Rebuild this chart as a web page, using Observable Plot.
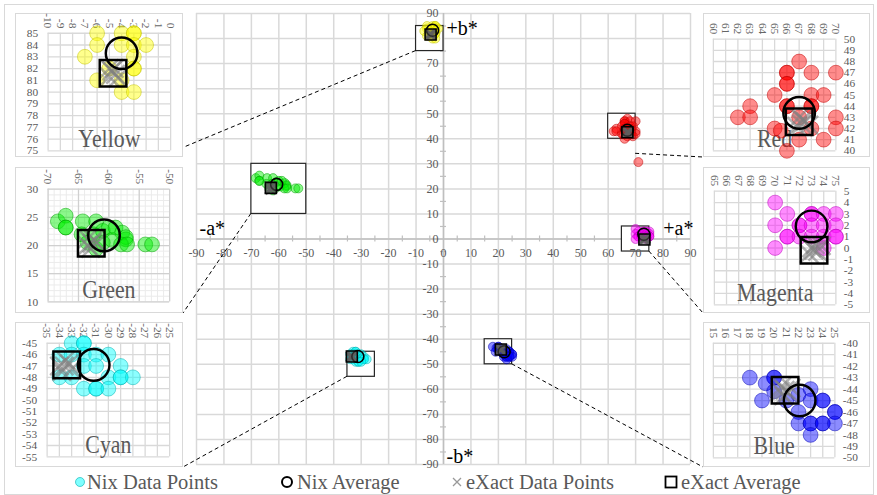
<!DOCTYPE html>
<html><head><meta charset="utf-8">
<script src="https://cdn.jsdelivr.net/npm/d3@7"></script>
<script src="https://cdn.jsdelivr.net/npm/@observablehq/plot@0.6"></script>
<style>
body{margin:0;background:#fff;}
#chart{position:relative;width:877px;height:495px;overflow:hidden;font-family:"Liberation Serif","Times New Roman",serif;background:#fff;}
.frame{position:absolute;left:4px;top:4px;width:870px;height:491px;border:1px solid #d9d9d9;box-sizing:border-box;}
.panel{position:absolute;background:#fff;border:1px solid #d9d9d9;box-sizing:border-box;overflow:visible;}
.panel svg{position:absolute;left:-1px;top:-1px;overflow:visible;}
.lg{position:absolute;white-space:nowrap;font-size:20.5px;line-height:24px;color:#595959;top:470px;}
</style></head><body><div id="chart"></div><script>
// ---------- DATA (a*, b*) ----------
const names = ["Yellow", "Green", "Cyan", "Red", "Magenta", "Blue"];

const yellowNix = [[-6,85],[-4,85],[-3,85],[-3,85],[-6,84],[-4,84],[-3,84],[-2,84],[-7,83],[-3,83],[-5,82],[-3,82],[-3,82],[-6,81],[-4,81],[-4,80],[-3,80]];
const greenNix = [[-68.4,24.3],[-67.1,25.3],[-67.1,23.2],[-67.1,23.2],[-64.3,24.3],[-64.5,22],[-62.1,24.3],[-62.5,22],[-63.5,20.5],[-62.1,19.4],[-61,22.6],[-61,20.5],[-60,23.2],[-59.5,21],[-58.9,23.2],[-57.8,22.3],[-57.2,21.1],[-57.2,21.5],[-58,20.2],[-57,20.2],[-54,20.2],[-52.9,20.2]];
const cyanNix = [[-33,-45],[-32,-45],[-32,-45],[-34,-46],[-33,-46],[-32,-46],[-31,-46],[-30,-46],[-32,-47],[-31,-47],[-29,-47],[-34,-48],[-33,-48],[-30,-48],[-29,-48],[-29,-48],[-28,-48],[-32,-49],[-31,-49],[-31,-49],[-30,-49]];
const redNix = [[67,48],[66,47],[66,47],[68,47],[70,47],[66,46],[66,46],[65,45],[68,45],[69,45],[66,44],[66,44],[68,44],[68,44],[63,44],[62,43],[63,43],[67,43],[70,43],[68,42],[70,42],[65,42],[65.5,41.8],[67,41],[69,41],[66,40],[71,30.7]];
const magentaNix = [[70,4],[71,3],[73,3],[73,3],[74,3],[75,3],[70,2],[72,2],[72,2],[73,2],[74,2],[75,2],[71,1],[71,1],[72,1],[73,1],[74,1],[75,1],[75,1],[70,0],[74,0]];
const blueNix = [[18,-43],[20,-43],[20,-43],[19.3,-43.5],[20,-44.2],[19,-45],[21,-45],[22,-44.5],[23,-44],[23,-45],[24,-45],[24,-45],[22,-46],[25,-46],[25,-46],[22,-47],[23,-47],[23,-47],[24,-47],[24,-47],[25,-47],[23,-48]];

const yellowExact = [[-5,82],[-4.5,81.5],[-4.3,81.2],[-5,81.3],[-4.6,82],[-4.8,81.8]];
const greenExact = [[-63.5,20],[-62.5,21],[-63,19.5],[-62,20.5],[-63.5,21.2],[-62.8,20.4]];
const cyanExact = [[-34,-47],[-33.5,-46.5],[-33,-47.3],[-33.8,-47.5],[-33.2,-46.8],[-33.6,-47]];
const redExact = [[67.3,42.8],[67.8,42.3],[66.8,42.2],[67.5,42.6],[67,43],[67.2,42.4]];
const magentaExact = [[73,0],[73.5,-0.3],[73.8,0.2],[72.8,-0.5],[73.3,0.3],[73.2,-0.2]];
const blueExact = [[20.6,-43.8],[21.2,-44.3],[20.8,-44.6],[21.4,-43.9],[20.5,-44.2],[20.9,-44.1]];

const nixAverage = [[-4.0,83.3],[-60.8,21.8],[-31.2,-46.9],[67,43.4],[73,1.9],[22.1,-45.0]];
const exactAverage = [[-4.7,81.6],[-62.9,20.4],[-33.4,-46.9],[67,42.6],[73.2,-0.2],[20.9,-44.1]];

// inset ranges (a* range, b* range)
const aRanges = [[-10,0],[-70,-50],[-35,-25],[60,70],[65,75],[15,25]];
const bRanges = [[75,85],[10,30],[-55,-45],[40,50],[-5,5],[-50,-40]];
const labelSteps = [1,5,1,1,1,1];

// connector start points in the main chart (a*, b*)
const connectorFrom = [[-10,75],[-70,10],[-35,-55],[70,34],[75,-5],[25,-50]];

const mainTicks = d3.range(-90, 91, 10);
const minorTicks = d3.range(-85, 90, 10);
const axisNames = [{label:"+b*", a:0, b:84},{label:"-a*", a:-90, b:4.2},{label:"+a*", a:79, b:4.2},{label:"-b*", a:0, b:-87}];
const legendLabels = ["Nix Data Points", "Nix Average", "eXact Data Points", "eXact Average"];

// ---------- STYLE / LAYOUT ----------
const fills = {Yellow:"#ffff00", Green:"#00f000", Cyan:"#00ffff", Red:"#ff0000", Magenta:"#ff00ff", Blue:"#0000ff"};
const strokes = {Yellow:"#c0c000", Green:"#00a000", Cyan:"#00b0b0", Red:"#c00000", Magenta:"#b800b8", Blue:"#0000b0"};
const layout = {
  Yellow:  {panel:[15,13,183,157],  plot:[48,33,172,152],  side:"left",  end:"plotBR"},
  Green:   {panel:[15,167,183,313], plot:[48,189,171,303], side:"left",  end:"panelBR"},
  Cyan:    {panel:[15,322,183,467], plot:[47,343,171,458], side:"left",  end:"panelBR"},
  Red:     {panel:[703,13,870,157], plot:[713,39,837,152], side:"right", end:"panelBL"},
  Magenta: {panel:[703,167,870,313],plot:[714,191,837,306],side:"right", end:"panelBL"},
  Blue:    {panel:[703,322,870,467],plot:[713,343,836,459],side:"right", end:"panelBL"}
};
const FONT = "Liberation Serif, Times New Roman, serif";

const nixSets = [yellowNix, greenNix, cyanNix, redNix, magentaNix, blueNix];
const exactSets = [yellowExact, greenExact, cyanExact, redExact, magentaExact, blueExact];

const nixPts = names.flatMap((n, i) => nixSets[i].map(([a, b]) => ({a, b, name: n, fill: fills[n], stroke: strokes[n]})));
const exactPts = names.flatMap((n, i) => exactSets[i].map(([a, b]) => ({a, b, name: n})));
const nixAvgPts = names.map((n, i) => ({a: nixAverage[i][0], b: nixAverage[i][1], name: n}));
const exactAvgPts = names.map((n, i) => ({a: exactAverage[i][0], b: exactAverage[i][1], name: n}));
const boxes = names.map((n, i) => ({name: n, a1: aRanges[i][0], a2: aRanges[i][1], b1: bRanges[i][0], b2: bRanges[i][1]}));

const chart = document.getElementById("chart");
const frame = document.createElement("div"); frame.className = "frame"; chart.appendChild(frame);

// ---------- MAIN PLOT ----------
const main = Plot.plot({
  width: 877, height: 495,
  marginLeft: 196, marginRight: 187, marginTop: 13, marginBottom: 31,
  x: {domain: [-90, 90], axis: null},
  y: {domain: [-90, 90], axis: null},
  style: {fontFamily: FONT, fontSize: "12px", color: "#595959", background: "transparent", overflow: "visible", position: "absolute", left: "0px", top: "0px"},
  marks: [
    Plot.gridX(mainTicks, {stroke: "#d9d9d9", strokeOpacity: 1, strokeWidth: 1.5}),
    Plot.gridY(mainTicks, {stroke: "#d9d9d9", strokeOpacity: 1, strokeWidth: 1.5}),
    Plot.ruleX([0], {stroke: "#bfbfbf", strokeWidth: 1.5}),
    Plot.ruleY([0], {stroke: "#bfbfbf", strokeWidth: 1.5}),
    Plot.ruleY(minorTicks, {y: d => d, x1: () => 0, x2: () => 0, insetLeft: -3, insetRight: -3, stroke: "#bfbfbf", strokeWidth: 1.2}),
    Plot.ruleX(minorTicks, {x: d => d, y1: () => 0, y2: () => 0, insetTop: -3, insetBottom: -3, stroke: "#bfbfbf", strokeWidth: 1.2}),
    Plot.text(mainTicks, {x: () => 0, y: d => d, text: d => String(d), textAnchor: "end", dx: -5, fontFamily: FONT}),
    Plot.rect(boxes, {x1: "a1", x2: "a2", y1: "b1", y2: "b2", fill: "white", stroke: "#262626", strokeWidth: 1.2}),
    Plot.text(mainTicks, {x: d => d, y: () => 0, text: d => String(d), dy: 14, fontFamily: FONT}),
    Plot.dot(nixPts, {x: "a", y: "b", r: 4.5, fill: "fill", fillOpacity: 0.45, stroke: "stroke", strokeOpacity: 0.5, strokeWidth: 1}),
    Plot.dot(exactPts, {x: "a", y: "b", symbol: "times", r: 4.2, stroke: "#707070", strokeWidth: 1.5, strokeOpacity: 0.8}),
    Plot.dot(nixAvgPts, {x: "a", y: "b", r: 6, stroke: "black", strokeWidth: 1.6, fill: "none"}),
    Plot.dot(exactAvgPts, {x: "a", y: "b", symbol: "square", r: 6.2, stroke: "black", strokeWidth: 1.6, fill: "#505050", fillOpacity: 0.55}),
    Plot.text(axisNames, {x: "a", y: "b", text: "label", textAnchor: "start", dx: 3, fontSize: 20, fill: "black", fontFamily: FONT})
  ]
});
chart.appendChild(main);

// ---------- CONNECTORS ----------
const sx = main.scale("x"), sy = main.scale("y");
const over = d3.select(chart).append("svg").attr("width", 877).attr("height", 495)
  .style("position", "absolute").style("left", "0px").style("top", "0px").style("pointer-events", "none");
names.forEach((n, i) => {
  const L = layout[n];
  const [px1, py1, px2, py2] = L.panel, [qx1, qy1, qx2, qy2] = L.plot;
  const end = L.end === "plotBR" ? [qx2, qy2] : L.end === "panelBR" ? [px2, py2] : [px1, py2];
  over.append("line")
    .attr("x1", sx.apply(connectorFrom[i][0])).attr("y1", sy.apply(connectorFrom[i][1]))
    .attr("x2", end[0]).attr("y2", end[1])
    .attr("stroke", "#000").attr("stroke-width", 1).attr("stroke-dasharray", "4,3");
});

// ---------- INSETS ----------
names.forEach((n, i) => {
  const L = layout[n];
  const [px1, py1, px2, py2] = L.panel, [qx1, qy1, qx2, qy2] = L.plot;
  const ar = aRanges[i], br = bRanges[i], step = labelSteps[i];
  const inA = ([a, b]) => a >= ar[0] && a <= ar[1] && b >= br[0] && b <= br[1];
  const nix = nixSets[i].filter(inA).map(([a, b]) => ({a, b}));
  const ex = exactSets[i].map(([a, b]) => ({a, b}));
  const gridAllX = d3.range(ar[0], ar[1] + 0.001, 1), gridAllY = d3.range(br[0], br[1] + 0.001, 1);
  const labX = d3.range(ar[0], ar[1] + 0.001, step), labY = d3.range(br[0], br[1] + 0.001, step);
  const marks = [];
  if (step > 1) {
    marks.push(Plot.gridX(gridAllX, {stroke: "#ebebeb", strokeOpacity: 1, strokeWidth: 1}));
    marks.push(Plot.gridY(gridAllY, {stroke: "#ebebeb", strokeOpacity: 1, strokeWidth: 1}));
    marks.push(Plot.gridX(labX, {stroke: "#d0d0d0", strokeOpacity: 1, strokeWidth: 1.3}));
    marks.push(Plot.gridY(labY, {stroke: "#d0d0d0", strokeOpacity: 1, strokeWidth: 1.3}));
  } else {
    marks.push(Plot.gridX(gridAllX, {stroke: "#d9d9d9", strokeOpacity: 1, strokeWidth: 1.3}));
    marks.push(Plot.gridY(gridAllY, {stroke: "#d9d9d9", strokeOpacity: 1, strokeWidth: 1.3}));
  }
  marks.push(
    Plot.axisX(labX, {anchor: "top", label: null, tickRotate: 90, tickSize: 0, tickPadding: 5, tickFormat: d => String(d), textAnchor: "end", lineAnchor: "middle", fill: "#666", fontFamily: FONT}),
    Plot.axisY(labY, {anchor: L.side, label: null, tickSize: 0, tickPadding: L.side === "left" ? 10 : 8, tickFormat: d => String(d), fill: "#595959", fontFamily: FONT}),
    Plot.text([n], {frameAnchor: "bottom", text: d => d, lineAnchor: "bottom", dy: -4, fontSize: 26, fill: "#595959", fontFamily: FONT}),
    Plot.dot(nix, {x: "a", y: "b", r: 7.5, fill: fills[n], fillOpacity: 0.45, stroke: strokes[n], strokeOpacity: 0.5, strokeWidth: 1}),
    Plot.dot(ex, {x: "a", y: "b", symbol: "times", r: 8.5, stroke: "#808080", strokeWidth: 2.5, strokeOpacity: 0.6}),
    Plot.dot([nixAvgPts[i]], {x: "a", y: "b", r: 16, stroke: "black", strokeWidth: 2.5, fill: "none"}),
    Plot.dot([exactAvgPts[i]], {x: "a", y: "b", symbol: "square", r: 15.2, stroke: "black", strokeWidth: 2.5, fill: "none"})
  );
  const p = Plot.plot({
    width: px2 - px1, height: py2 - py1,
    marginLeft: qx1 - px1, marginRight: px2 - qx2, marginTop: qy1 - py1, marginBottom: py2 - qy2,
    x: {domain: ar, axis: null}, y: {domain: br, axis: null},
    style: {fontFamily: FONT, fontSize: "11.5px", color: "#595959", background: "transparent", overflow: "visible"},
    marks
  });
  const div = document.createElement("div");
  div.className = "panel";
  div.style.left = px1 + "px"; div.style.top = py1 + "px";
  div.style.width = (px2 - px1) + "px"; div.style.height = (py2 - py1) + "px";
  div.appendChild(p);
  chart.appendChild(div);
  p.querySelectorAll('g[aria-label="text"] text').forEach(t => {
    const w = t.getComputedTextLength();
    t.setAttribute("textLength", (w * 0.85).toFixed(1));
    t.setAttribute("lengthAdjust", "spacingAndGlyphs");
  });
});

// ---------- LEGEND ----------
const legendSym = [
  {cx: 80, tx: 87, kind: "dot"},
  {cx: 287, tx: 297, kind: "circle"},
  {cx: 457, tx: 466, kind: "times"},
  {cx: 671, tx: 681, kind: "square"}
];
legendLabels.forEach((lab, i) => {
  const s = legendSym[i];
  const svg = d3.select(chart).append("svg").attr("width", 16).attr("height", 24)
    .style("position", "absolute").style("left", (s.cx - 8) + "px").style("top", "470px");
  if (s.kind === "dot") svg.append("circle").attr("cx", 8).attr("cy", 12).attr("r", 4.5).attr("fill", fills.Cyan).attr("fill-opacity", 0.5).attr("stroke", strokes.Cyan).attr("stroke-opacity", 0.6);
  if (s.kind === "circle") svg.append("circle").attr("cx", 8).attr("cy", 12).attr("r", 5).attr("fill", "none").attr("stroke", "#000").attr("stroke-width", 2);
  if (s.kind === "times") svg.append("path").attr("d", "M4,8L12,16M12,8L4,16").attr("stroke", "#999").attr("stroke-width", 1.3);
  if (s.kind === "square") svg.append("rect").attr("x", 2.5).attr("y", 6.5).attr("width", 11).attr("height", 11).attr("fill", "none").attr("stroke", "#000").attr("stroke-width", 1.8);
  const d = document.createElement("div");
  d.className = "lg"; d.style.left = s.tx + "px"; d.textContent = lab;
  chart.appendChild(d);
});
</script></body></html>
